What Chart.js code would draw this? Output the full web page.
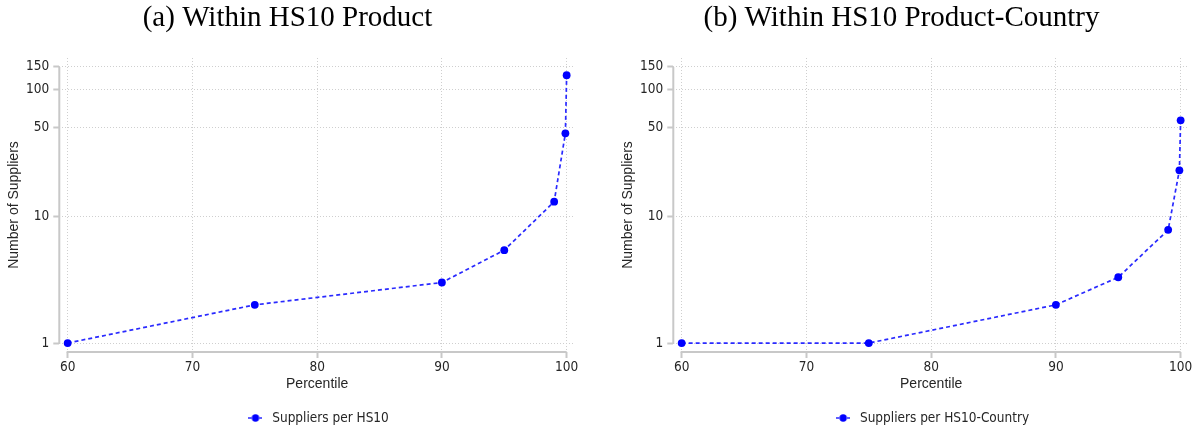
<!DOCTYPE html>
<html>
<head>
<meta charset="utf-8">
<script src="https://cdn.jsdelivr.net/npm/chart.js@4.4.1/dist/chart.umd.min.js"></script>
<style>
  html, body { margin: 0; padding: 0; background: #ffffff; }
  body { width: 1196px; height: 429px; position: relative; overflow: hidden; }
  canvas { position: absolute; top: 0; }
  #chartA { left: 0px; }
  #chartB { left: 614px; }
</style>
</head>
<body>
<canvas id="chartA" width="582" height="429"></canvas>
<canvas id="chartB" width="582" height="429"></canvas>
<script>
// ---- Data ----
const percentiles = [60, 75, 90, 95, 99, 99.9, 100];
const suppliersPerHS10 = [1, 2, 3, 5.4, 13, 45, 129];
const suppliersPerHS10Country = [1, 1, 2, 3.3, 7.8, 23, 57];
const xTickValues = [60, 70, 80, 90, 100];
const yTickValues = [1, 10, 50, 100, 150];
const titleA = '(a) Within HS10 Product';
const titleB = '(b) Within HS10 Product-Country';
const labelA = 'Suppliers per HS10';
const labelB = 'Suppliers per HS10-Country';
const xAxisTitle = 'Percentile';
const yAxisTitle = 'Number of Suppliers';

// ---- Styles ----
const BLUE = '#0000ff';
const AXIS_GRAY = '#c8c8c8';
const GRID_GRAY = '#cfcfcf';
const TEXT = '#262626';
const NARROW = "'Liberation Sans Narrow', 'DejaVu Sans Condensed', 'Arial Narrow', sans-serif";
const SANS = "'Liberation Sans', Arial, sans-serif";
const SERIF = "'Liberation Serif', 'Times New Roman', serif";

// legend symbol: short dashed line with a dot
function legendSymbol() {
  const c = document.createElement('canvas');
  c.width = 14; c.height = 8;
  const g = c.getContext('2d');
  g.strokeStyle = '#2a2aff';
  g.lineWidth = 1.7;
  g.beginPath();
  g.moveTo(0, 4); g.lineTo(3, 4);
  g.moveTo(11, 4); g.lineTo(14, 4);
  g.stroke();
  g.fillStyle = BLUE;
  g.beginPath();
  g.arc(7, 4, 3.7, 0, Math.PI * 2);
  g.fill();
  return c;
}

const axisLines = {
  id: 'axisLines',
  beforeDatasetsDraw(chart) {
    const { ctx, chartArea, scales } = chart;
    const x = scales.x, y = scales.y;
    ctx.save();
    ctx.strokeStyle = AXIS_GRAY;
    ctx.lineWidth = 2;
    ctx.setLineDash([]);
    ctx.beginPath();
    ctx.moveTo(chartArea.left, y.getPixelForValue(yTickValues[yTickValues.length - 1]));
    ctx.lineTo(chartArea.left, y.getPixelForValue(yTickValues[0]) + 1);
    ctx.moveTo(x.getPixelForValue(xTickValues[0]) - 1, chartArea.bottom);
    ctx.lineTo(x.getPixelForValue(xTickValues[xTickValues.length - 1]), chartArea.bottom);
    ctx.stroke();
    ctx.restore();
  }
};

function makeChart(id, titleText, label, values) {
  const data = percentiles.map((p, i) => ({ x: p, y: values[i] }));
  const gridOpts = {
    color: GRID_GRAY,
    lineWidth: 1,
    drawTicks: true,
    tickLength: 6,
    tickColor: AXIS_GRAY,
    tickWidth: 2,
    tickBorderDash: [100, 0]
  };
  const borderOpts = { display: false, dash: [1, 2] };
  return new Chart(document.getElementById(id), {
    type: 'line',
    data: {
      datasets: [{
        label: label,
        data: data,
        borderColor: '#2a2aff',
        borderWidth: 1.7,
        borderDash: [4, 3],
        backgroundColor: BLUE,
        pointBackgroundColor: BLUE,
        pointBorderWidth: 0,
        pointRadius: 3.9,
        pointStyle: 'circle',
        tension: 0,
        fill: false
      }]
    },
    plugins: [axisLines],
    options: {
      responsive: false,
      animation: false,
      devicePixelRatio: 1,
      layout: { padding: { left: 0, right: 7, top: 0, bottom: 0 } },
      plugins: {
        tooltip: { enabled: false },
        title: {
          display: true,
          text: titleText,
          color: '#000',
          font: { family: SERIF, size: 29, weight: 'normal', lineHeight: 1 },
          padding: { top: 4, bottom: 25 }
        },
        legend: {
          position: 'bottom',
          fullSize: false,
          maxHeight: 36,
          labels: {
            usePointStyle: true,
            pointStyle: legendSymbol(),
            pointStyleWidth: 20,
            padding: 18.25,
            color: TEXT,
            font: { family: NARROW, size: 13.5 }
          }
        }
      },
      scales: {
        x: {
          type: 'linear',
          min: 59.33,
          max: 100.67,
          afterBuildTicks: (s) => { s.ticks = xTickValues.map(v => ({ value: v })); },
          ticks: {
            color: TEXT,
            font: { family: NARROW, size: 13.5 },
            padding: 1,
            maxRotation: 0,
            autoSkip: false,
            callback: (v) => String(v)
          },
          grid: gridOpts,
          border: borderOpts,
          title: {
            display: true,
            text: xAxisTitle,
            color: TEXT,
            font: { family: SANS, size: 14 },
            padding: { top: 0, bottom: 0 }
          }
        },
        y: {
          type: 'logarithmic',
          min: 0.85,
          max: 176.5,
          afterBuildTicks: (s) => { s.ticks = yTickValues.map(v => ({ value: v })); },
          afterFit: (s) => { s.width = 59.3; },
          ticks: {
            color: TEXT,
            font: { family: NARROW, size: 13.5 },
            padding: 4,
            autoSkip: false,
            callback: (v) => String(v)
          },
          grid: gridOpts,
          border: borderOpts,
          title: {
            display: true,
            text: yAxisTitle,
            color: TEXT,
            font: { family: SANS, size: 14 },
            padding: { top: 6, bottom: 0 }
          }
        }
      }
    }
  });
}

makeChart('chartA', titleA, labelA, suppliersPerHS10);
makeChart('chartB', titleB, labelB, suppliersPerHS10Country);
</script>
</body>
</html>
